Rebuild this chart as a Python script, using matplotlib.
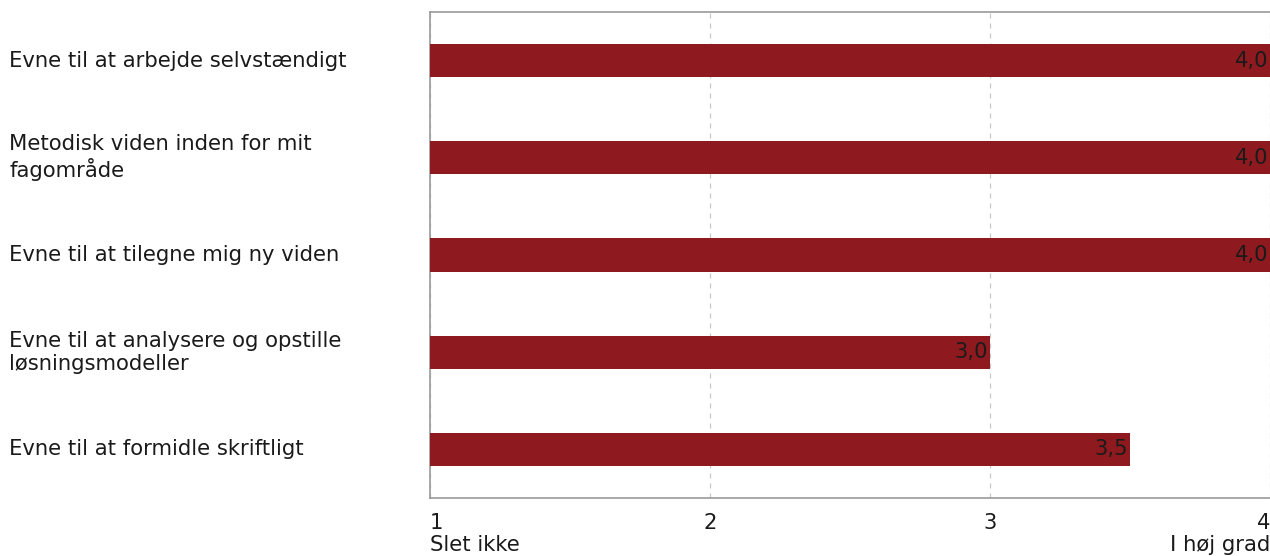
import matplotlib
matplotlib.use("Agg")
import matplotlib.pyplot as plt
import matplotlib.transforms as mtransforms

plt.rcParams["font.family"] = ["DejaVu Sans"]

# data
categories = [
    "Evne til at arbejde selvstændigt",
    "Metodisk viden inden for mit\nfagområde",
    "Evne til at tilegne mig ny viden",
    "Evne til at analysere og opstille\nløsningsmodeller",
    "Evne til at formidle skriftligt",
]
values = [4.0, 4.0, 4.0, 3.0, 3.5]
tick_pos = [1, 2, 3, 4]
tick_labels = ["1\nSlet ikke", "2", "3", "4\nI høj grad"]

bar_color = "#8e1a1f"
text_color = "#1a1a1a"
fs = 15.2

fig = plt.figure(figsize=(12.7, 5.56), dpi=100)
ax = fig.add_axes([430 / 1270, 1 - 498 / 556, 840 / 1270, 486 / 556])

y = list(range(len(categories)))
ax.barh(y, [v - 1 for v in values], left=1, height=0.34, color=bar_color, zorder=3)

for yi, v in zip(y, values):
    ax.text(v - 0.006, yi, f"{v:.1f}".replace(".", ","), ha="right", va="center",
            fontsize=fs, color=text_color, zorder=4)

ax.set_xlim(1, 4)
ax.set_ylim(len(categories) - 0.5, -0.5)

ax.set_yticks([])
lab_tr = mtransforms.blended_transform_factory(fig.transFigure, ax.transData)
for yi, c in zip(y, categories):
    ax.text(9 / 1270, yi, c, transform=lab_tr, ha="left", va="center",
            fontsize=fs, color=text_color, linespacing=1.2)

ax.set_xticks(tick_pos)
ax.set_xticklabels(tick_labels, fontsize=fs, color=text_color, linespacing=1.1)
ax.tick_params(axis="x", length=0, pad=11)
lbls = ax.get_xticklabels()
lbls[0].set_ha("left")
lbls[0].set_multialignment("left")
lbls[-1].set_ha("right")
lbls[-1].set_multialignment("right")

ax.grid(axis="x", color="#c8c8c8", linestyle=(0, (4, 4)), linewidth=0.9, zorder=0)
for s in ["left", "top", "bottom"]:
    ax.spines[s].set_color("#999999")
    ax.spines[s].set_linewidth(1.2)
ax.spines["right"].set_visible(False)

fig.savefig("out.png", dpi=100)
